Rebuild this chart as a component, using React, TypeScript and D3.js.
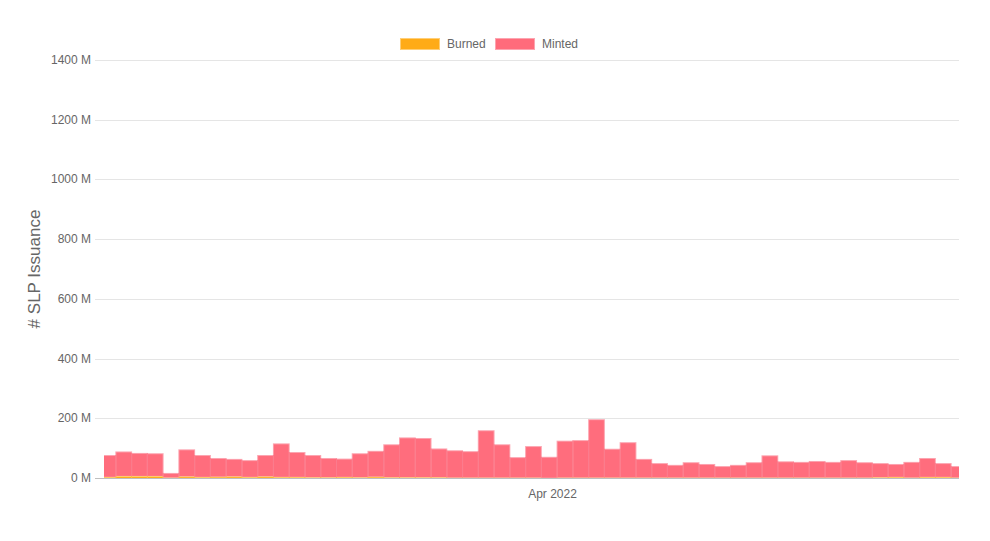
import React from 'react';
import * as d3 from 'd3';

// daily buckets, 4 Mar 2022 .. 27 Apr 2022 (UTC)
const startDay = new Date(Date.UTC(2022, 2, 4));
const dayCount = 55;
const days = d3.utcDay.range(startDay, d3.utcDay.offset(startDay, dayCount));

const burned = [
  4, 7, 7, 7, 2, 6, 4, 5, 6, 4, 6, 4, 4, 3, 3, 4, 3, 5, 3, 3,
  3, 3, 2, 2, 2, 2, 2, 2, 1, 2, 2, 2, 2, 2, 2, 2, 2, 2, 2, 2,
  2, 2, 2, 2, 2, 2, 2, 2, 2, 3, 4, 2, 4, 4, 2
];

const minted = [
  73, 82, 77, 76, 15, 90, 73, 62, 58, 56, 71, 112, 83, 74, 64, 61, 80, 86, 110, 133,
  131, 96, 91, 88, 158, 111, 68, 105, 70, 123, 125, 195, 96, 118, 62, 48, 42, 51, 45, 38,
  42, 51, 74, 54, 52, 55, 52, 58, 51, 47, 43, 52, 63, 46, 38
];

const yTicks = [0, 200, 400, 600, 800, 1000, 1200, 1400];
const legendItems = ['Burned', 'Minted'];

const W = 990;
const H = 541;
const plot = { left: 104, right: 959, top: 60, bottom: 478 };
const displayShiftHours = -5; // data at UTC midnight drawn in a UTC-5 zone
const font = '"Liberation Sans", Arial, Helvetica, sans-serif';

const colors = {
  Burned: { fill: '#ffab17', border: 'rgba(255,173,28,0.6)' },
  Minted: { fill: '#ff6b7b', border: 'rgba(250,90,112,0.55)' }
};

const App: React.FC = () => {
  const shown = days.map(d => d3.utcHour.offset(d, displayShiftHours));

  const x = d3.scaleUtc()
    .domain([d3.utcHour.offset(days[0], -11), d3.utcHour.offset(days[days.length - 1], displayShiftHours)])
    .range([plot.left, plot.right]);

  const y = d3.scaleLinear()
    .domain([0, 1400])
    .range([plot.bottom, plot.top]);

  const dayWidth = x(days[1]) - x(days[0]);
  const barW = dayWidth + 1;

  const stack = d3.stack<number>()
    .keys(['Burned', 'Minted'])
    .value((i, key) => (key === 'Burned' ? burned[i] : minted[i]));
  const series = stack(d3.range(dayCount));

  const xTick = new Date(Date.UTC(2022, 3, 1));

  return (
    <svg
      width={W}
      height={H}
      style={{ position: 'absolute', top: 0, left: 0, background: 'white', fontFamily: font }}
    >
      <defs>
        <clipPath id="plot-clip">
          <rect x={plot.left} y={0} width={plot.right - plot.left} height={plot.bottom} />
        </clipPath>
      </defs>

      {/* legend */}
      <g>
        {legendItems.map((name, i) => {
          const lx = i === 0 ? 400 : 495;
          const c = colors[name as 'Burned' | 'Minted'];
          return (
            <g key={name}>
              <rect x={lx} y={38} width={40} height={12} fill={c.border} />
              <rect x={lx + 1} y={39} width={38} height={10} fill={c.fill} />
              <text x={lx + 47} y={48} fontSize={12} fill="#666">{name}</text>
            </g>
          );
        })}
      </g>

      {/* y grid + labels */}
      <g>
        {yTicks.map(v => (
          <g key={v}>
            <line
              x1={plot.left - 9}
              x2={plot.right}
              y1={Math.round(y(v)) + 0.5}
              y2={Math.round(y(v)) + 0.5}
              stroke={v === 0 ? 'rgba(0,0,0,0.25)' : 'rgba(0,0,0,0.1)'}
            />
            <text
              x={plot.left - 13}
              y={y(v) + 4}
              fontSize={12}
              fill="#666"
              textAnchor="end"
            >
              {`${v} M`}
            </text>
          </g>
        ))}
      </g>

      {/* bars */}
      <g clipPath="url(#plot-clip)">
        {series.map(s => {
          const c = colors[s.key as 'Burned' | 'Minted'];
          return (
            <g key={s.key}>
              {s.map((seg, i) => {
                const x0 = x(shown[i]) - barW / 2;
                const top = y(seg[1]);
                const h = y(seg[0]) - top;
                if (h <= 0) return null;
                return (
                  <g key={i}>
                    <rect x={x0} y={top} width={barW} height={h} fill={c.border} />
                    <rect
                      x={x0 + 1}
                      y={top + 1}
                      width={Math.max(0, barW - 2)}
                      height={Math.max(0, h - 1)}
                      fill={c.fill}
                      opacity={0.97}
                    />
                  </g>
                );
              })}
            </g>
          );
        })}
      </g>

      {/* x tick */}
      <text x={x(xTick)} y={498} fontSize={12} fill="#666" textAnchor="middle">
        {d3.utcFormat('%b %Y')(xTick)}
      </text>

      {/* y title */}
      <text
        transform={`translate(40,${(plot.top + plot.bottom) / 2}) rotate(-90)`}
        fontSize={17}
        fill="#666"
        textAnchor="middle"
      >
        # SLP Issuance
      </text>
    </svg>
  );
};

export default App;
